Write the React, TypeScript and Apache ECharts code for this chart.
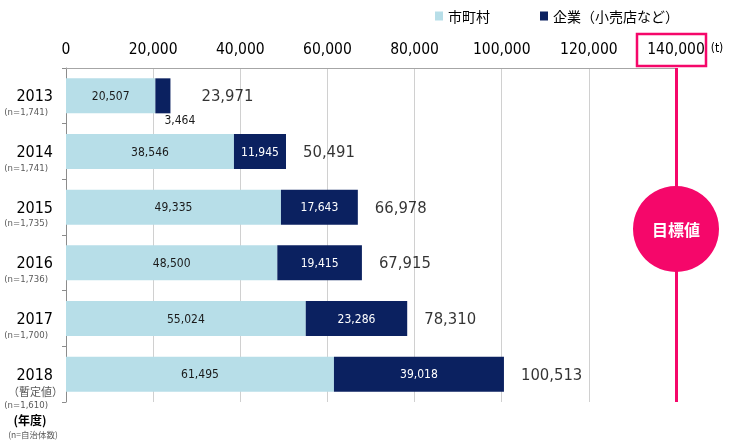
import React, { useEffect, useRef } from 'react';
import * as echarts from 'echarts';

const years = ['2013', '2014', '2015', '2016', '2017', '2018'];
const sampleSizes = ['(n=1,741)', '(n=1,741)', '(n=1,735)', '(n=1,736)', '(n=1,700)', '(n=1,610)'];
const provisionalNote = '（暫定値）';
const municipal = [20507, 38546, 49335, 48500, 55024, 61495];
const company = [3464, 11945, 17643, 19415, 23286, 39018];
const totals = [23971, 50491, 66978, 67915, 78310, 100513];
const seriesNames = ['市町村', '企業（小売店など）'];
const axisMax = 140000;
const axisStep = 20000;
const targetValue = 140000;
const targetText = '目標値';
const unitText = '(t)';
const yearUnitText = '(年度)';
const sampleUnitText = '(n=自治体数)';

const FONT = '"DejaVu Sans Condensed", "Liberation Sans Narrow", "Liberation Sans", sans-serif';
const JFONT = '"Noto Sans CJK JP", sans-serif';
const PINK = '#F5076A';
const LIGHT = '#B7DEE8';
const NAVY = '#0B2160';

export default function App() {
  const ref = useRef<HTMLDivElement>(null);
  useEffect(() => {
    const chart = echarts.init(ref.current!, null, { renderer: 'svg' });
    const fmt = (v: number) => v.toLocaleString('en-US');
    chart.setOption({
      animation: false,
      textStyle: { fontFamily: FONT },
      legend: {
        data: seriesNames,
        left: 430,
        top: 4,
        icon: 'rect',
        itemWidth: 8,
        itemHeight: 9,
        itemGap: 50,
        textStyle: { fontSize: 14, fontFamily: JFONT, color: '#000' },
      },
      grid: { left: 66, right: 56, top: 68, bottom: 38, containLabel: false },
      xAxis: {
        type: 'value',
        position: 'top',
        min: 0,
        max: axisMax,
        interval: axisStep,
        axisLine: { show: true, lineStyle: { color: '#a6a6a6', width: 1 } },
        axisTick: { show: false },
        axisLabel: {
          fontSize: 15.5,
          color: '#000',
          margin: 11,
          fontFamily: FONT,
          formatter: (v: number) => fmt(v),
        },
        splitLine: { show: true, lineStyle: { color: '#d0d0d0', width: 1 } },
      },
      yAxis: {
        type: 'category',
        inverse: true,
        data: years,
        axisLine: { show: true, lineStyle: { color: '#8c8c8c', width: 1 } },
        axisTick: { show: true, length: 4, lineStyle: { color: '#8c8c8c' } },
        axisLabel: {
          margin: 2,
          align: 'right',
          formatter: (val: string, idx: number) =>
            idx === years.length - 1
              ? `{sp2| }\n{y|${val}}\n{m|${provisionalNote}}\n{n2|${sampleSizes[idx]}}`
              : `{sp| }\n{y|${val}}\n{n|${sampleSizes[idx]}}`,
          rich: {
            sp: { fontSize: 9, lineHeight: 14 },
            sp2: { fontSize: 9, lineHeight: 27 },
            y: { fontSize: 16, lineHeight: 17, color: '#000', fontFamily: FONT, align: 'right', padding: [0, 11, 0, 0] },
            m: { fontSize: 11, lineHeight: 16, color: '#595959', fontFamily: JFONT, align: 'right', padding: [0, 1, 0, 0] },
            n: { fontSize: 9.5, lineHeight: 14, color: '#595959', fontFamily: FONT, align: 'right', padding: [0, 16, 0, 0] },
            n2: { fontSize: 9.5, lineHeight: 11, color: '#595959', fontFamily: FONT, align: 'right', padding: [0, 16, 0, 0] },
          },
        },
      },
      series: [
        {
          name: seriesNames[0],
          type: 'bar',
          stack: 'total',
          barWidth: 35,
          itemStyle: { color: LIGHT },
          label: {
            show: true,
            position: 'inside',
            color: '#1a1a1a',
            fontSize: 12,
            fontFamily: FONT,
            formatter: (p: any) => fmt(p.value),
          },
          data: municipal,
          markLine: {
            silent: true,
            symbol: 'none',
            label: { show: false },
            lineStyle: { color: PINK, width: 3, type: 'solid' },
            data: [{ xAxis: targetValue }],
          },
        },
        {
          name: seriesNames[1],
          type: 'bar',
          stack: 'total',
          barWidth: 35,
          itemStyle: { color: NAVY },
          label: {
            show: true,
            position: 'inside',
            color: '#fff',
            fontSize: 12,
            fontFamily: FONT,
            formatter: (p: any) => fmt(p.value),
          },
          data: company.map((v) =>
            v < 5000
              ? { value: v, label: { position: 'bottom', color: '#1a1a1a', offset: [17, -4] } }
              : v
          ),
        },
        {
          name: 'total',
          type: 'scatter',
          symbolSize: 0,
          silent: true,
          label: {
            show: true,
            position: 'right',
            distance: 17,
            fontSize: 16.5,
            color: '#000',
            fontFamily: FONT,
            formatter: (p: any) => fmt(p.value[0]),
          },
          data: totals.map((t, i) =>
            i === 0 ? { value: [t, years[i]], label: { distance: 31 } } : [t, years[i]]
          ),
        },
      ],
    });
    const xc = chart.convertToPixel({ xAxisIndex: 0 }, targetValue) as number;
    chart.setOption({
      graphic: [
        {
          type: 'rect',
          z: 100,
          shape: { x: xc - 39, y: 34, width: 69, height: 32 },
          style: { fill: 'none', stroke: PINK, lineWidth: 2.5 },
        },
        {
          type: 'circle',
          z: 100,
          shape: { cx: xc, cy: 229, r: 43 },
          style: { fill: PINK },
        },
        {
          type: 'text',
          z: 101,
          x: xc,
          y: 229,
          style: {
            text: targetText,
            fill: '#fff',
            font: `bold 16px ${JFONT}`,
            align: 'center',
            verticalAlign: 'middle',
          },
        },
        {
          type: 'text',
          z: 100,
          x: 717,
          y: 48,
          style: { text: unitText, fill: '#000', font: `12px ${FONT}`, align: 'center', verticalAlign: 'middle' },
        },
        {
          type: 'text',
          z: 100,
          x: 30,
          y: 419.5,
          style: { text: yearUnitText, fill: '#000', font: `bold 12px ${JFONT}`, align: 'center', verticalAlign: 'middle' },
        },
        {
          type: 'text',
          z: 100,
          x: 33,
          y: 434,
          style: { text: sampleUnitText, fill: '#595959', font: `8.5px ${JFONT}`, align: 'center', verticalAlign: 'middle' },
        },
      ],
    });
    return () => chart.dispose();
  }, []);
  return <div ref={ref} style={{ position: 'fixed', left: 0, top: 0, width: 732, height: 440 }} />;
}
